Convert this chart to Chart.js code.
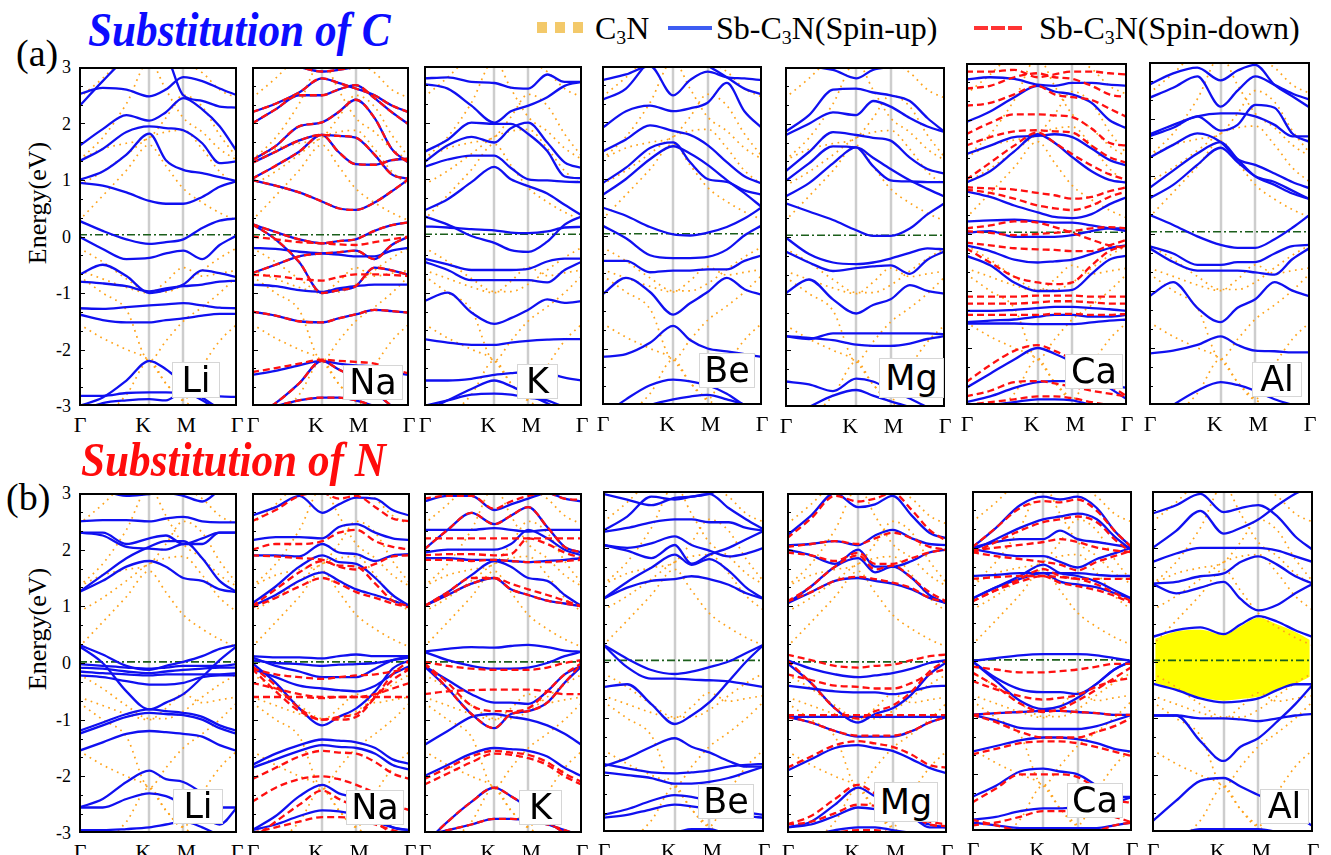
<!DOCTYPE html>
<html>
<head>
<meta charset="utf-8">
<script src="https://cdn.jsdelivr.net/npm/chart.js@4.4.1/dist/chart.umd.min.js"></script>
<style>
  html, body { margin: 0; padding: 0; background: #fff; }
  body { width: 1331px; height: 855px; position: relative; overflow: hidden;
         font-family: "Liberation Serif", "Times New Roman", serif; color: #000; }
  .panel { position: absolute; }
  .panel canvas { display: block; }
  .txt { position: absolute; white-space: nowrap; line-height: 1; }
  .title { font-weight: bold; font-style: italic; font-size: 48px; transform: scaleX(0.9); transform-origin: left top; }
  .klab { position: absolute; font-size: 22px; line-height: 1; transform: translateX(-50%); }
  .ylab { position: absolute; font-size: 18px; line-height: 1; transform: translate(-100%, -50%); }
  .elab { position: absolute; font-size: 26px; line-height: 1; transform: translate(-50%, -50%) rotate(-90deg); white-space: nowrap; }
  .tag { position: absolute; background: #fff; border: 1px solid #d6d6d6; box-sizing: border-box;
         font-family: "DejaVu Sans", sans-serif; font-size: 35px; text-align: center; }
  .legend { position: absolute; top: 12px; font-size: 32px; line-height: 1; white-space: nowrap; }
  .legend sub { font-size: 0.62em; vertical-align: -0.25em; line-height: 0; }
</style>
</head>
<body>
<div id="root"></div>
<script>
// k-path sample points (fraction of the path Γ-K-M-Γ)
const KX = [0, 0.15, 0.3, 0.445, 0.55, 0.66, 0.78, 0.89, 1];
const KPTS = [0, 0.445, 0.66, 1];
const KLABELS = ['Γ', 'K', 'M', 'Γ'];
const KLAB_SHIFT = [1, -6, 3, 0];
const E_TICKS = [3, 2, 1, 0, -1, -2, -3];
const FERMI_A = 0.03;
const FERMI_B = 0.02;

// pristine C3N (orange dotted), same in every panel
const C3N = [
  [0.28, 0.72, 1.17, 1.62, 1.25, 0.85, 0.60, 0.42, 0.28],
  [0.90, 1.15, 1.45, 1.75, 1.85, 1.88, 1.55, 1.15, 0.90],
  [1.35, 1.75, 2.35, 3.10, 2.60, 2.10, 1.85, 1.55, 1.35],
  [1.35, 1.55, 1.65, 1.75, 2.10, 2.50, 2.30, 1.80, 1.40],
  [2.45, 2.80, 3.20, 3.40, 3.30, 3.10, 2.90, 2.60, 2.45],
  [-0.20, -0.45, -0.75, -0.98, -0.98, -0.85, -0.60, -0.38, -0.20],
  [-0.60, -0.75, -0.90, -1.00, -0.80, -0.55, -0.70, -0.65, -0.60],
  [-0.70, -1.00, -1.30, -2.20, -1.85, -1.50, -1.25, -1.00, -0.70],
  [-1.55, -1.80, -2.00, -2.20, -2.60, -2.90, -2.30, -1.85, -1.55],
  [-3.50, -3.20, -2.80, -2.20, -2.60, -2.90, -3.10, -3.30, -3.50]
];

// (a) substitution of C
const LI_C_UP = [
  [2.52, 2.63, 2.60, 2.48, 2.60, 2.82, 2.75, 2.62, 2.50],
  [2.30, 2.75, 3.15, 3.30, 3.20, 2.50, 2.40, 2.30, 2.28],
  [1.60, 1.90, 2.15, 2.05, 2.20, 2.45, 2.25, 1.95, 1.50],
  [1.33, 1.55, 1.85, 1.95, 1.92, 1.88, 1.65, 1.30, 1.33],
  [1.00, 1.15, 1.45, 1.82, 1.35, 1.18, 1.12, 1.05, 0.98],
  [0.95, 0.90, 0.78, 0.63, 0.58, 0.58, 0.70, 0.88, 0.98],
  [0.28, 0.10, -0.05, -0.13, -0.10, -0.05, 0.15, 0.28, 0.32],
  [0.00, -0.22, -0.40, -0.38, -0.30, -0.25, -0.40, -0.15, 0.02],
  [-0.68, -0.50, -0.70, -1.00, -0.95, -0.85, -0.60, -0.65, -0.72],
  [-0.80, -0.83, -0.88, -0.97, -0.92, -0.88, -0.85, -0.80, -0.78],
  [-1.27, -1.28, -1.25, -1.22, -1.20, -1.18, -1.22, -1.26, -1.27],
  [-1.38, -1.48, -1.52, -1.52, -1.48, -1.45, -1.40, -1.37, -1.37],
  [-3.00, -2.85, -2.55, -2.20, -2.35, -2.60, -2.85, -3.05, -3.20],
  [-2.82, -2.82, -2.77, -2.76, -2.76, -2.77, -2.80, -2.83, -2.84],
  [-3.10, -2.95, -2.90, -2.88, -2.90, -2.75, -2.90, -3.10, -3.20]
];
const NA_C_UP = [
  [3.20, 3.10, 3.00, 2.92, 2.95, 3.00, 3.10, 3.20, 3.20],
  [2.20, 2.35, 2.55, 2.80, 2.72, 2.62, 2.50, 2.32, 2.20],
  [2.00, 2.25, 2.50, 2.50, 2.60, 2.68, 2.45, 2.20, 1.98],
  [1.35, 1.60, 1.95, 2.02, 2.20, 2.42, 2.10, 1.55, 1.30],
  [1.30, 1.50, 1.70, 1.80, 1.78, 1.75, 1.45, 1.10, 1.02],
  [1.02, 1.25, 1.50, 1.80, 1.50, 1.28, 1.27, 1.35, 1.38],
  [1.00, 0.90, 0.78, 0.62, 0.50, 0.47, 0.60, 0.80, 1.02],
  [0.22, 0.08, -0.05, -0.12, -0.08, -0.05, 0.10, 0.20, 0.25],
  [0.22, -0.05, -0.45, -1.00, -0.95, -0.88, -0.55, -0.60, -0.68],
  [-0.65, -0.50, -0.35, -0.30, -0.28, -0.25, -0.40, -0.15, 0.00],
  [-0.20, -0.22, -0.27, -0.30, -0.32, -0.35, -0.35, -0.25, -0.20],
  [-0.85, -0.88, -0.95, -0.98, -0.92, -0.88, -0.85, -0.85, -0.85],
  [-1.33, -1.40, -1.50, -1.52, -1.45, -1.38, -1.30, -1.32, -1.35],
  [-2.45, -2.38, -2.28, -2.20, -2.25, -2.28, -2.30, -2.40, -2.45],
  [-3.20, -2.95, -2.60, -2.20, -2.35, -2.50, -2.75, -3.00, -3.20],
  [-3.10, -3.00, -2.90, -2.85, -2.85, -2.90, -3.00, -3.10, -3.20]
];
const NA_C_DN = [
  [3.20, 3.10, 3.00, 2.92, 2.95, 3.00, 3.10, 3.20, 3.20],
  [2.20, 2.35, 2.55, 2.80, 2.72, 2.62, 2.50, 2.32, 2.20],
  [2.00, 2.25, 2.50, 2.50, 2.60, 2.68, 2.45, 2.20, 1.98],
  [1.35, 1.60, 1.95, 2.02, 2.20, 2.42, 2.10, 1.55, 1.30],
  [1.30, 1.50, 1.70, 1.80, 1.78, 1.75, 1.45, 1.10, 1.02],
  [1.02, 1.25, 1.50, 1.80, 1.50, 1.28, 1.27, 1.35, 1.38],
  [1.00, 0.90, 0.78, 0.62, 0.50, 0.47, 0.60, 0.80, 1.02],
  [0.22, 0.08, -0.05, -0.12, -0.08, -0.05, 0.10, 0.20, 0.25],
  [0.22, -0.05, -0.45, -1.00, -0.95, -0.88, -0.55, -0.60, -0.68],
  [-0.65, -0.50, -0.35, -0.30, -0.28, -0.25, -0.40, -0.15, 0.00],
  [0.00, -0.05, -0.10, -0.12, -0.14, -0.15, -0.10, -0.05, 0.00],
  [-0.68, -0.70, -0.75, -0.78, -0.72, -0.67, -0.67, -0.68, -0.70],
  [-1.33, -1.40, -1.50, -1.52, -1.45, -1.38, -1.30, -1.32, -1.35],
  [-2.40, -2.33, -2.25, -2.18, -2.20, -2.22, -2.25, -2.35, -2.42],
  [-3.20, -2.95, -2.60, -2.20, -2.35, -2.50, -2.75, -3.00, -3.20],
  [-3.10, -3.00, -2.90, -2.85, -2.85, -2.90, -3.00, -3.10, -3.20]
];
const K_C_UP = [
  [2.78, 2.80, 2.72, 2.70, 2.62, 2.60, 2.85, 2.72, 2.72],
  [2.68, 2.60, 2.30, 2.00, 2.20, 2.30, 2.45, 2.65, 2.72],
  [1.48, 1.70, 2.00, 1.98, 1.98, 1.80, 1.50, 1.05, 1.02],
  [1.30, 1.60, 1.75, 1.65, 1.90, 2.00, 1.65, 1.30, 1.20],
  [1.22, 1.35, 1.42, 1.42, 1.20, 1.00, 0.98, 0.96, 0.95],
  [0.45, 0.65, 0.95, 1.22, 1.00, 0.88, 0.75, 0.55, 0.36],
  [0.35, 0.20, 0.00, -0.12, -0.25, -0.28, -0.10, 0.20, 0.35],
  [0.17, 0.15, 0.12, 0.10, 0.06, 0.05, 0.08, 0.15, 0.16],
  [-0.40, -0.50, -0.60, -0.60, -0.60, -0.58, -0.45, -0.40, -0.40],
  [-0.45, -0.60, -0.78, -0.78, -0.78, -0.78, -0.82, -0.60, -0.45],
  [-1.15, -1.00, -1.35, -1.55, -1.45, -1.30, -1.12, -1.18, -1.15],
  [-1.82, -1.88, -1.92, -1.92, -1.88, -1.85, -1.83, -1.82, -1.82],
  [-2.55, -2.55, -2.52, -2.45, -2.42, -2.40, -2.42, -2.50, -2.55],
  [-3.10, -2.90, -2.70, -2.55, -2.65, -2.80, -2.95, -3.10, -3.20],
  [-3.00, -2.90, -2.80, -2.78, -2.80, -2.85, -2.90, -3.00, -3.00]
];
const BE_C_UP = [
  [2.75, 2.85, 3.00, 2.48, 2.75, 2.90, 2.80, 2.78, 2.75],
  [2.40, 2.60, 3.10, 3.30, 3.10, 3.00, 2.80, 2.60, 2.50],
  [1.90, 2.20, 2.30, 2.20, 2.25, 2.35, 2.70, 2.20, 1.90],
  [1.48, 1.70, 1.95, 1.85, 1.78, 1.60, 1.30, 1.05, 0.92],
  [0.92, 1.20, 1.55, 1.65, 1.30, 1.00, 0.95, 0.80, 0.72],
  [0.71, 1.00, 1.35, 1.58, 1.45, 1.25, 0.98, 0.75, 0.50],
  [0.50, 0.35, 0.15, 0.02, 0.00, 0.05, 0.15, 0.30, 0.50],
  [0.18, -0.05, -0.35, -0.40, -0.40, -0.38, -0.25, 0.00, 0.18],
  [-0.45, -0.45, -0.65, -0.62, -0.62, -0.60, -0.60, -0.45, -0.35],
  [-1.05, -0.75, -1.00, -1.40, -1.20, -1.00, -0.75, -0.95, -1.05],
  [-2.15, -2.10, -1.90, -1.60, -1.85, -2.00, -2.05, -2.10, -2.15],
  [-3.20, -2.90, -2.65, -2.55, -2.58, -2.65, -2.80, -3.00, -3.10],
  [-3.30, -3.15, -3.00, -2.90, -2.85, -2.82, -2.90, -3.00, -3.20]
];
const MG_C_UP = [
  [3.00, 3.00, 2.95, 2.80, 2.95, 3.00, 3.05, 3.10, 3.10],
  [1.85, 2.15, 2.60, 2.62, 2.55, 2.50, 2.40, 2.10, 1.85],
  [1.79, 2.00, 2.20, 2.15, 2.40, 2.30, 2.10, 1.95, 1.85],
  [1.15, 1.50, 1.85, 1.80, 1.75, 1.70, 1.40, 1.20, 1.12],
  [0.98, 1.30, 1.60, 1.58, 1.25, 1.00, 0.98, 0.97, 0.97],
  [0.71, 0.95, 1.30, 1.58, 1.40, 1.20, 1.00, 0.85, 0.71],
  [0.60, 0.45, 0.30, 0.12, 0.02, 0.02, 0.15, 0.40, 0.60],
  [0.00, -0.30, -0.45, -0.48, -0.45, -0.38, -0.28, -0.20, -0.22],
  [-0.25, -0.45, -0.60, -0.55, -0.52, -0.50, -0.65, -0.40, -0.25],
  [-1.00, -0.75, -1.10, -1.35, -1.20, -1.10, -0.85, -0.95, -1.00],
  [-1.75, -1.80, -1.70, -1.70, -1.70, -1.70, -1.70, -1.70, -1.72],
  [-1.75, -1.78, -1.82, -1.90, -1.92, -1.92, -1.88, -1.80, -1.75],
  [-2.55, -2.60, -2.72, -2.50, -2.55, -2.70, -2.85, -3.00, -3.10],
  [-3.20, -3.00, -2.80, -2.70, -2.80, -2.90, -3.00, -3.10, -3.20]
];
const CA_C_UP = [
  [2.71, 2.75, 2.72, 2.62, 2.60, 2.65, 2.65, 2.62, 2.60],
  [1.96, 2.15, 2.40, 2.60, 2.50, 2.45, 2.30, 2.00, 1.85],
  [1.40, 1.55, 1.70, 1.72, 1.75, 1.70, 1.50, 1.30, 1.20],
  [0.90, 1.10, 1.45, 1.75, 1.60, 1.35, 1.10, 0.95, 0.90],
  [0.75, 0.65, 0.50, 0.38, 0.30, 0.28, 0.35, 0.52, 0.65],
  [0.22, 0.24, 0.25, 0.22, 0.20, 0.20, 0.15, 0.10, 0.05],
  [0.02, 0.05, -0.05, -0.05, -0.05, -0.02, 0.05, 0.10, 0.10],
  [-0.20, -0.30, -0.45, -0.50, -0.48, -0.45, -0.35, -0.25, -0.20],
  [-0.38, -0.55, -0.85, -1.00, -1.00, -0.98, -0.70, -0.45, -0.38],
  [-1.35, -1.35, -1.33, -1.30, -1.28, -1.28, -1.30, -1.32, -1.35],
  [-1.55, -1.52, -1.50, -1.45, -1.42, -1.42, -1.45, -1.45, -1.42],
  [-1.57, -1.57, -1.57, -1.58, -1.58, -1.58, -1.55, -1.52, -1.50],
  [-2.70, -2.45, -2.20, -2.00, -2.10, -2.25, -2.50, -2.70, -2.90],
  [-2.95, -2.85, -2.70, -2.60, -2.58, -2.58, -2.60, -2.65, -2.70],
  [-3.05, -3.00, -2.95, -2.90, -2.90, -2.92, -3.00, -3.05, -3.10]
];
const CA_C_DN = [
  [2.85, 2.85, 2.88, 2.75, 2.80, 2.85, 2.85, 2.82, 2.80],
  [2.55, 2.60, 2.75, 2.82, 2.75, 2.72, 2.60, 2.45, 2.40],
  [2.25, 2.30, 2.45, 2.60, 2.45, 2.40, 2.35, 2.20, 2.05],
  [1.75, 1.95, 2.10, 2.10, 2.08, 2.05, 1.85, 1.60, 1.55],
  [1.55, 1.70, 1.80, 1.82, 1.80, 1.78, 1.55, 1.35, 1.25],
  [0.95, 1.25, 1.55, 1.78, 1.60, 1.40, 1.20, 1.05, 0.95],
  [0.82, 0.80, 0.78, 0.72, 0.68, 0.62, 0.65, 0.75, 0.82],
  [0.78, 0.72, 0.62, 0.50, 0.45, 0.42, 0.50, 0.65, 0.75],
  [0.10, 0.15, 0.22, 0.20, 0.12, 0.02, -0.10, -0.20, -0.25],
  [0.05, 0.02, -0.02, 0.00, 0.02, 0.05, 0.10, 0.12, 0.10],
  [-0.15, -0.20, -0.25, -0.27, -0.28, -0.30, -0.30, -0.20, -0.10],
  [-0.25, -0.50, -0.75, -0.85, -0.88, -0.85, -0.55, -0.30, -0.20],
  [-1.10, -1.10, -1.10, -1.08, -1.08, -1.08, -1.10, -1.10, -1.10],
  [-1.22, -1.22, -1.22, -1.20, -1.18, -1.18, -1.20, -1.22, -1.22],
  [-1.42, -1.42, -1.42, -1.42, -1.40, -1.40, -1.42, -1.42, -1.40],
  [-2.60, -2.30, -2.05, -1.95, -2.05, -2.20, -2.45, -2.65, -2.85],
  [-2.85, -2.75, -2.60, -2.58, -2.62, -2.68, -2.75, -2.80, -2.85],
  [-3.00, -2.95, -2.90, -2.85, -2.85, -2.88, -2.95, -3.00, -3.05]
];
const AL_C_UP = [
  [2.37, 2.55, 2.75, 2.22, 2.50, 2.75, 2.60, 2.45, 2.34],
  [2.60, 2.80, 2.90, 2.68, 2.85, 2.95, 2.60, 2.40, 2.20],
  [1.73, 1.90, 2.05, 2.10, 2.10, 2.05, 1.90, 1.70, 1.70],
  [1.70, 1.85, 2.05, 1.80, 1.90, 2.25, 2.20, 1.75, 1.60],
  [1.32, 1.55, 1.75, 1.60, 1.30, 1.20, 1.05, 0.90, 0.79],
  [0.79, 1.10, 1.40, 1.60, 1.30, 1.00, 0.85, 0.70, 0.60],
  [0.61, 0.85, 1.20, 1.50, 1.25, 1.00, 0.90, 0.75, 0.60],
  [0.33, 0.15, -0.05, -0.20, -0.25, -0.25, -0.10, 0.10, 0.33],
  [-0.22, -0.35, -0.55, -0.55, -0.50, -0.50, -0.35, -0.22, -0.20],
  [-0.25, -0.50, -0.65, -0.65, -0.65, -0.68, -0.72, -0.45, -0.25],
  [-1.10, -0.85, -1.30, -1.55, -1.30, -1.15, -0.85, -1.00, -1.10],
  [-2.10, -2.05, -1.95, -1.80, -1.95, -2.05, -2.06, -2.08, -2.08],
  [-3.30, -3.00, -2.75, -2.60, -2.65, -2.75, -2.90, -3.00, -3.10]
];

// (b) substitution of N
const LI_N_UP = [
  [3.20, 3.05, 2.95, 2.98, 3.00, 2.95, 2.85, 3.05, 3.20],
  [2.50, 2.52, 2.52, 2.50, 2.55, 2.58, 2.50, 2.48, 2.48],
  [2.30, 2.30, 2.10, 2.20, 2.25, 2.10, 2.20, 2.30, 2.30],
  [2.30, 2.25, 2.05, 2.02, 2.00, 2.10, 2.10, 2.30, 2.30],
  [1.25, 1.45, 1.70, 1.80, 1.70, 1.50, 1.45, 1.30, 1.25],
  [1.25, 1.55, 1.85, 2.05, 2.15, 2.15, 1.85, 1.45, 1.25],
  [0.32, 0.15, -0.05, -0.12, -0.05, 0.02, 0.12, 0.25, 0.32],
  [-0.02, -0.05, -0.08, -0.10, -0.08, -0.05, -0.05, -0.05, -0.02],
  [-0.08, -0.10, -0.15, -0.18, -0.15, -0.12, -0.10, -0.08, -0.08],
  [-0.15, -0.18, -0.20, -0.22, -0.20, -0.20, -0.20, -0.20, -0.18],
  [-0.22, -0.25, -0.32, -0.38, -0.38, -0.35, -0.25, -0.22, -0.22],
  [0.30, 0.00, -0.50, -0.82, -0.70, -0.55, -0.25, 0.05, 0.30],
  [-1.20, -1.05, -0.90, -0.82, -0.85, -0.88, -0.95, -1.10, -1.20],
  [-1.25, -1.10, -0.95, -0.88, -0.90, -0.92, -1.00, -1.15, -1.25],
  [-1.55, -1.40, -1.25, -1.20, -1.22, -1.25, -1.30, -1.45, -1.55],
  [-2.55, -2.40, -2.10, -1.90, -2.05, -2.10, -2.30, -2.55, -2.55],
  [-2.55, -2.55, -2.40, -2.30, -2.35, -2.50, -2.70, -2.85, -2.55],
  [-2.95, -2.95, -2.93, -2.90, -2.85, -2.80, -2.90, -3.05, -3.20]
];
const NA_N_UP = [
  [2.60, 2.75, 2.95, 2.65, 2.80, 2.92, 2.90, 2.70, 2.60],
  [2.17, 2.22, 2.22, 2.20, 2.40, 2.45, 2.30, 2.20, 2.17],
  [1.90, 1.90, 1.88, 2.10, 1.95, 1.92, 1.80, 1.90, 1.92],
  [1.05, 1.35, 1.70, 1.90, 1.78, 1.75, 1.50, 1.20, 1.00],
  [1.00, 1.20, 1.45, 1.60, 1.45, 1.30, 1.20, 1.10, 1.00],
  [0.12, 0.10, 0.10, 0.08, 0.12, 0.15, 0.12, 0.12, 0.12],
  [0.10, -0.05, -0.15, -0.25, -0.25, -0.25, -0.10, 0.05, 0.12],
  [0.05, 0.00, -0.02, -0.05, -0.03, -0.02, 0.00, 0.05, 0.10],
  [-0.10, -0.25, -0.40, -0.45, -0.48, -0.50, -0.40, -0.20, -0.05],
  [0.00, -0.35, -0.80, -1.10, -0.95, -0.80, -0.50, -0.10, 0.05],
  [-1.80, -1.60, -1.45, -1.35, -1.37, -1.40, -1.50, -1.70, -1.78],
  [-1.85, -1.70, -1.55, -1.45, -1.48, -1.50, -1.60, -1.80, -1.88],
  [-2.95, -2.70, -2.35, -2.15, -2.30, -2.40, -2.70, -2.90, -2.95],
  [-2.95, -2.85, -2.70, -2.60, -2.62, -2.68, -2.80, -2.90, -2.95]
];
const NA_N_DN = [
  [2.50, 2.70, 2.95, 3.00, 2.90, 2.95, 2.75, 2.55, 2.50],
  [2.00, 2.10, 2.10, 2.15, 2.30, 2.35, 2.15, 2.05, 2.00],
  [1.90, 1.88, 1.85, 1.82, 1.70, 1.65, 1.75, 1.88, 1.90],
  [1.00, 1.30, 1.60, 1.80, 1.72, 1.70, 1.40, 1.10, 1.00],
  [0.98, 1.15, 1.35, 1.50, 1.40, 1.25, 1.15, 1.05, 0.98],
  [-0.10, -0.20, -0.25, -0.28, -0.25, -0.22, -0.20, -0.15, -0.10],
  [-0.35, -0.45, -0.55, -0.60, -0.60, -0.60, -0.55, -0.45, -0.35],
  [-0.60, -0.60, -0.60, -0.62, -0.60, -0.60, -0.60, -0.60, -0.60],
  [-0.05, -0.40, -0.80, -1.00, -1.00, -0.95, -0.60, -0.20, 0.05],
  [-0.10, -0.50, -0.85, -1.00, -0.95, -0.90, -0.60, -0.30, -0.10],
  [-2.05, -1.85, -1.65, -1.55, -1.58, -1.60, -1.75, -1.95, -2.05],
  [-2.45, -2.20, -2.05, -2.00, -2.05, -2.15, -2.30, -2.50, -2.60],
  [-3.10, -2.80, -2.50, -2.25, -2.40, -2.55, -2.80, -3.00, -3.10],
  [-3.00, -2.90, -2.80, -2.72, -2.72, -2.75, -2.85, -2.95, -3.05]
];
const K_N_UP = [
  [2.85, 2.95, 2.95, 2.70, 2.80, 2.90, 3.00, 2.90, 2.85],
  [2.00, 2.35, 2.65, 2.45, 2.60, 2.75, 2.40, 2.05, 1.95],
  [2.35, 2.35, 2.35, 2.38, 2.35, 2.32, 2.35, 2.35, 2.35],
  [1.95, 2.00, 2.00, 2.00, 2.10, 2.35, 2.20, 2.00, 1.90],
  [1.85, 1.85, 1.82, 1.82, 1.80, 1.78, 1.80, 1.82, 1.85],
  [1.00, 1.25, 1.55, 1.80, 1.70, 1.50, 1.45, 1.20, 1.00],
  [1.00, 1.20, 1.40, 1.50, 1.30, 1.20, 1.10, 1.05, 1.00],
  [0.20, 0.25, 0.28, 0.27, 0.30, 0.32, 0.28, 0.22, 0.20],
  [0.20, 0.05, -0.05, -0.10, -0.10, -0.08, 0.00, 0.12, 0.20],
  [-0.05, -0.30, -0.55, -0.70, -0.70, -0.72, -0.50, -0.20, -0.05],
  [-0.05, -0.45, -0.90, -1.15, -0.90, -0.85, -0.70, -0.35, -0.05],
  [-1.45, -1.20, -0.95, -0.90, -0.95, -1.00, -1.10, -1.25, -1.45],
  [-2.00, -1.80, -1.60, -1.50, -1.52, -1.55, -1.65, -1.85, -2.00],
  [-3.20, -2.80, -2.45, -2.20, -2.35, -2.55, -2.80, -3.00, -3.20],
  [-3.05, -2.95, -2.85, -2.75, -2.75, -2.78, -2.85, -2.95, -3.05]
];
const K_N_DN = [
  [2.90, 2.95, 2.95, 2.72, 2.85, 2.95, 3.00, 2.90, 2.88],
  [2.00, 2.35, 2.65, 2.45, 2.60, 2.75, 2.40, 2.05, 1.95],
  [2.20, 2.20, 2.20, 2.20, 2.20, 2.20, 2.20, 2.20, 2.20],
  [1.90, 1.92, 1.92, 1.90, 1.92, 2.20, 2.10, 1.95, 1.85],
  [1.82, 1.82, 1.80, 1.82, 1.80, 1.78, 1.78, 1.80, 1.82],
  [1.00, 1.25, 1.50, 1.50, 1.40, 1.30, 1.20, 1.10, 1.00],
  [1.00, 1.20, 1.40, 1.50, 1.30, 1.20, 1.10, 1.05, 1.00],
  [0.02, -0.05, -0.10, -0.12, -0.12, -0.12, -0.08, 0.00, 0.05],
  [-0.55, -0.50, -0.48, -0.47, -0.47, -0.47, -0.50, -0.55, -0.55],
  [0.00, -0.35, -0.75, -0.85, -0.85, -0.80, -0.50, -0.20, 0.00],
  [0.00, -0.45, -0.90, -1.15, -0.90, -0.85, -0.70, -0.35, 0.00],
  [-2.05, -1.85, -1.65, -1.55, -1.58, -1.62, -1.75, -1.95, -2.10],
  [-2.15, -1.95, -1.75, -1.60, -1.62, -1.68, -1.80, -2.00, -2.15],
  [-3.20, -2.80, -2.45, -2.20, -2.35, -2.55, -2.80, -3.00, -3.20],
  [-3.05, -2.95, -2.85, -2.75, -2.75, -2.78, -2.85, -2.95, -3.05]
];
const BE_N_UP = [
  [2.95, 2.85, 2.75, 2.88, 2.90, 2.95, 2.70, 2.50, 2.32],
  [2.30, 2.55, 2.90, 2.85, 2.90, 2.95, 3.10, 3.20, 3.20],
  [2.28, 2.35, 2.45, 2.50, 2.50, 2.45, 2.45, 2.35, 2.30],
  [2.05, 1.95, 1.82, 2.05, 1.72, 1.88, 2.00, 2.15, 2.30],
  [2.05, 2.00, 2.08, 2.20, 2.05, 1.95, 1.85, 1.90, 2.00],
  [1.10, 1.40, 1.65, 1.88, 1.70, 1.80, 1.60, 1.30, 1.10],
  [1.10, 1.30, 1.42, 1.45, 1.50, 1.45, 1.35, 1.20, 1.10],
  [0.30, 0.05, -0.15, -0.22, -0.18, -0.10, 0.00, 0.15, 0.30],
  [0.30, -0.10, -0.30, -0.30, -0.32, -0.33, -0.35, -0.40, -0.45],
  [-0.45, -0.40, -0.75, -1.10, -0.95, -0.72, -0.35, 0.00, 0.30],
  [-1.85, -1.70, -1.50, -1.35, -1.50, -1.60, -1.75, -1.85, -1.85],
  [-1.80, -1.88, -1.95, -1.97, -1.95, -1.92, -1.85, -1.82, -1.80],
  [-1.95, -2.00, -2.05, -2.15, -2.15, -2.12, -2.05, -1.95, -1.85],
  [-2.70, -2.60, -2.45, -2.35, -2.38, -2.45, -2.55, -2.65, -2.70],
  [-2.75, -2.70, -2.60, -2.52, -2.55, -2.60, -2.68, -2.72, -2.75],
  [-3.10, -3.05, -3.00, -3.00, -2.95, -2.95, -3.05, -3.10, -3.15]
];
const MG_N_UP = [
  [2.25, 2.60, 3.00, 2.75, 2.80, 2.95, 2.60, 2.30, 2.20],
  [2.08, 2.10, 2.15, 2.08, 2.25, 2.35, 2.20, 2.10, 2.08],
  [2.00, 1.90, 1.75, 2.00, 1.70, 1.70, 1.80, 1.95, 2.00],
  [1.05, 1.35, 1.70, 1.85, 1.60, 1.70, 1.50, 1.20, 1.05],
  [1.05, 1.25, 1.45, 1.50, 1.45, 1.40, 1.30, 1.15, 1.05],
  [0.05, -0.10, -0.20, -0.25, -0.22, -0.18, -0.10, 0.00, 0.05],
  [-0.40, -0.45, -0.50, -0.52, -0.52, -0.55, -0.50, -0.42, -0.40],
  [0.00, -0.35, -0.80, -1.05, -0.90, -0.80, -0.55, -0.20, 0.02],
  [-0.95, -0.95, -0.95, -0.95, -0.95, -0.95, -0.95, -0.95, -0.95],
  [-0.95, -1.05, -1.20, -1.30, -1.30, -1.30, -1.20, -1.05, -0.95],
  [-1.90, -1.70, -1.50, -1.45, -1.50, -1.55, -1.70, -1.85, -1.95],
  [-2.90, -2.80, -2.50, -2.20, -2.35, -2.45, -2.70, -2.90, -2.90],
  [-2.90, -2.85, -2.70, -2.55, -2.58, -2.65, -2.75, -2.85, -2.90],
  [-3.10, -3.05, -2.95, -2.90, -2.90, -2.95, -3.00, -3.05, -3.10]
];
const MG_N_DN = [
  [2.20, 2.55, 2.95, 2.85, 2.90, 3.00, 2.70, 2.35, 2.15],
  [2.05, 2.10, 2.15, 2.10, 2.20, 2.30, 2.20, 2.05, 2.00],
  [1.95, 1.90, 1.80, 1.95, 1.75, 1.75, 1.85, 1.95, 2.00],
  [1.08, 1.35, 1.70, 1.90, 1.65, 1.72, 1.50, 1.25, 1.08],
  [1.08, 1.25, 1.45, 1.52, 1.48, 1.42, 1.32, 1.15, 1.08],
  [0.15, 0.05, -0.05, -0.08, -0.05, -0.03, 0.05, 0.12, 0.15],
  [-0.20, -0.30, -0.40, -0.42, -0.45, -0.45, -0.35, -0.20, -0.10],
  [0.05, -0.35, -0.80, -0.98, -0.85, -0.75, -0.50, -0.15, 0.05],
  [-0.92, -0.92, -0.92, -0.92, -0.92, -0.92, -0.92, -0.92, -0.92],
  [-0.95, -1.05, -1.20, -1.28, -1.28, -1.28, -1.20, -1.05, -0.95],
  [-1.85, -1.65, -1.45, -1.38, -1.42, -1.48, -1.62, -1.80, -1.85],
  [-2.85, -2.70, -2.40, -2.15, -2.30, -2.45, -2.65, -2.85, -2.88],
  [-2.85, -2.80, -2.65, -2.50, -2.52, -2.60, -2.70, -2.80, -2.85],
  [-3.15, -3.10, -3.00, -2.95, -2.95, -3.00, -3.05, -3.10, -3.15]
];
const CA_N_UP = [
  [2.00, 2.35, 2.75, 2.90, 2.85, 2.90, 2.70, 2.30, 2.00],
  [1.95, 2.15, 2.35, 2.50, 2.55, 2.60, 2.50, 2.20, 1.95],
  [2.00, 2.10, 2.15, 2.15, 2.30, 2.15, 2.10, 2.05, 2.00],
  [1.98, 1.90, 1.85, 1.85, 1.75, 1.65, 1.80, 1.90, 2.00],
  [1.50, 1.52, 1.55, 1.55, 1.55, 1.55, 1.52, 1.50, 1.50],
  [1.10, 1.30, 1.50, 1.70, 1.55, 1.50, 1.40, 1.25, 1.10],
  [1.10, 1.30, 1.45, 1.55, 1.40, 1.35, 1.30, 1.20, 1.10],
  [0.00, 0.05, 0.10, 0.12, 0.12, 0.12, 0.10, 0.05, 0.00],
  [0.00, -0.30, -0.50, -0.55, -0.55, -0.58, -0.40, -0.15, 0.00],
  [0.00, -0.35, -0.70, -0.85, -0.80, -0.65, -0.40, -0.15, 0.00],
  [-0.95, -0.92, -0.90, -0.88, -0.88, -0.90, -0.92, -0.95, -0.95],
  [-0.95, -1.05, -1.18, -1.20, -1.20, -1.20, -1.15, -1.05, -0.95],
  [-1.60, -1.50, -1.40, -1.35, -1.35, -1.38, -1.45, -1.55, -1.60],
  [-2.40, -2.20, -1.95, -1.90, -1.95, -2.00, -2.20, -2.40, -2.40],
  [-2.80, -2.75, -2.65, -2.60, -2.60, -2.58, -2.55, -2.50, -2.40],
  [-2.85, -2.90, -2.95, -2.95, -2.95, -2.95, -2.95, -2.90, -2.85]
];
const CA_N_DN = [
  [2.00, 2.35, 2.70, 2.82, 2.80, 2.85, 2.65, 2.30, 2.00],
  [1.90, 2.10, 2.30, 2.45, 2.50, 2.55, 2.45, 2.15, 1.90],
  [1.95, 2.00, 2.05, 2.10, 2.15, 2.10, 2.00, 1.95, 1.92],
  [1.92, 1.85, 1.80, 1.75, 1.70, 1.60, 1.75, 1.85, 1.95],
  [1.45, 1.48, 1.50, 1.50, 1.48, 1.45, 1.45, 1.45, 1.45],
  [1.05, 1.25, 1.45, 1.62, 1.50, 1.45, 1.35, 1.20, 1.05],
  [1.05, 1.25, 1.40, 1.50, 1.38, 1.32, 1.25, 1.15, 1.02],
  [-0.10, -0.15, -0.20, -0.20, -0.18, -0.15, -0.10, -0.05, -0.05],
  [-0.35, -0.50, -0.62, -0.68, -0.65, -0.60, -0.45, -0.35, -0.30],
  [-0.20, -0.45, -0.75, -0.90, -0.85, -0.70, -0.50, -0.30, -0.10],
  [-0.95, -0.92, -0.90, -0.88, -0.88, -0.90, -0.92, -0.95, -0.95],
  [-0.95, -1.08, -1.25, -1.35, -1.35, -1.35, -1.25, -1.15, -1.00],
  [-1.65, -1.55, -1.45, -1.42, -1.42, -1.45, -1.52, -1.60, -1.68],
  [-2.50, -2.25, -2.00, -2.00, -2.00, -2.05, -2.25, -2.45, -2.50],
  [-2.90, -2.85, -2.75, -2.65, -2.65, -2.65, -2.70, -2.75, -2.85],
  [-2.80, -2.90, -3.00, -3.05, -3.05, -3.05, -3.00, -2.90, -2.85]
];
const AL_N_UP = [
  [2.60, 2.75, 2.95, 2.63, 2.70, 2.75, 2.55, 2.20, 1.96],
  [1.99, 2.30, 2.65, 2.25, 2.35, 2.50, 2.75, 2.95, 3.10],
  [1.75, 1.90, 2.00, 2.00, 2.00, 2.00, 1.95, 1.85, 1.75],
  [1.37, 1.40, 1.50, 1.55, 1.75, 1.85, 1.70, 1.50, 1.37],
  [1.37, 1.20, 1.30, 1.40, 1.10, 0.90, 1.00, 1.20, 1.37],
  [0.43, 0.55, 0.60, 0.48, 0.65, 0.80, 0.70, 0.55, 0.43],
  [-0.39, -0.50, -0.65, -0.72, -0.70, -0.65, -0.50, -0.40, -0.40],
  [-0.95, -0.95, -1.00, -1.00, -1.02, -1.05, -1.00, -0.95, -0.92],
  [-0.95, -0.95, -1.40, -1.75, -1.50, -1.35, -1.05, -0.75, -0.40],
  [-2.82, -2.45, -2.10, -2.05, -2.20, -2.35, -2.50, -2.70, -2.90],
  [-3.10, -3.05, -2.95, -2.95, -2.95, -2.95, -3.00, -3.05, -3.10]
];
// yellow gap region in Al (N)
const AL_N_GAP_X = [0.02, 0.15, 0.3, 0.445, 0.55, 0.66, 0.78, 0.89, 0.98];
const AL_N_GAP_TOP = [0.40, 0.53, 0.56, 0.47, 0.62, 0.77, 0.65, 0.52, 0.38];
const AL_N_GAP_BOT = [-0.38, -0.50, -0.63, -0.69, -0.66, -0.62, -0.50, -0.40, -0.27];

// layout: frame rect [left, top, right, bottom] and tag box [left, top, w, h]
const PANELS = [
  { row: 'a', el: 'Li', rect: [79, 67, 237, 406],   tag: [172, 362, 48, 36], up: LI_C_UP, dn: [] },
  { row: 'a', el: 'Na', rect: [252, 67, 409, 406],  tag: [343, 365, 60, 35], up: NA_C_UP, dn: NA_C_DN },
  { row: 'a', el: 'K',  rect: [424, 66, 582, 406],  tag: [517, 364, 41, 35], up: K_C_UP,  dn: [] },
  { row: 'a', el: 'Be', rect: [602, 66, 762, 405],  tag: [699, 353, 56, 35], up: BE_C_UP, dn: [] },
  { row: 'a', el: 'Mg', rect: [785, 67, 945, 407],  tag: [879, 358, 65, 40], up: MG_C_UP, dn: [] },
  { row: 'a', el: 'Ca', rect: [966, 63, 1127, 405], tag: [1065, 354, 58, 35], up: CA_C_UP, dn: CA_C_DN },
  { row: 'a', el: 'Al', rect: [1149, 62, 1310, 405], tag: [1252, 362, 50, 35], up: AL_C_UP, dn: [] },
  { row: 'b', el: 'Li', rect: [79, 493, 237, 833],  tag: [173, 789, 50, 35], up: LI_N_UP, dn: [] },
  { row: 'b', el: 'Na', rect: [252, 493, 410, 833], tag: [346, 790, 58, 35], up: NA_N_UP, dn: NA_N_DN },
  { row: 'b', el: 'K',  rect: [424, 493, 582, 833], tag: [519, 790, 43, 35], up: K_N_UP,  dn: K_N_DN },
  { row: 'b', el: 'Be', rect: [603, 491, 764, 832], tag: [698, 784, 56, 35], up: BE_N_UP, dn: [] },
  { row: 'b', el: 'Mg', rect: [787, 493, 947, 833], tag: [874, 782, 64, 40], up: MG_N_UP, dn: MG_N_DN },
  { row: 'b', el: 'Ca', rect: [972, 491, 1132, 831], tag: [1067, 783, 56, 35], up: CA_N_UP, dn: CA_N_DN },
  { row: 'b', el: 'Al', rect: [1152, 491, 1313, 832], tag: [1260, 789, 49, 35], up: AL_N_UP, dn: [], gap: true }
];

const root = document.getElementById('root');

function addText(cls, text, left, top, style) {
  const d = document.createElement('div');
  d.className = cls;
  d.innerHTML = text;
  d.style.left = left + 'px';
  d.style.top = top + 'px';
  if (style) Object.assign(d.style, style);
  root.appendChild(d);
  return d;
}

// gray K / M lines, inner ticks and frame
const framePlugin = {
  id: 'frame',
  beforeDatasetsDraw(chart) {
    const { ctx, chartArea: a, scales: { x } } = chart;
    ctx.save();
    ctx.strokeStyle = '#cdcdcd';
    ctx.lineWidth = 2.5;
    KPTS.slice(1, 3).forEach(k => {
      const px = Math.round(x.getPixelForValue(k));
      ctx.beginPath(); ctx.moveTo(px, a.top); ctx.lineTo(px, a.bottom); ctx.stroke();
    });
    ctx.restore();
  },
  afterDraw(chart) {
    const { ctx, chartArea: a, scales: { y } } = chart;
    ctx.save();
    ctx.strokeStyle = '#000';
    ctx.lineWidth = 1;
    for (let i = 0; i <= 18; i++) {
      const py = Math.round(y.getPixelForValue(-3 + i / 3)) + 0.5;
      const len = i % 3 === 0 ? 6 : 4;
      ctx.beginPath(); ctx.moveTo(a.left, py); ctx.lineTo(a.left + len, py); ctx.stroke();
    }
    ctx.lineWidth = 2;
    ctx.strokeRect(a.left + 1, a.top + 1, a.width - 2, a.height - 2);
    ctx.restore();
  }
};

function band(ys, xs, color, width, dash) {
  return {
    data: ys.map((y, i) => ({ x: xs[i], y })),
    borderColor: color,
    borderWidth: width,
    borderDash: dash,
    borderCapStyle: 'butt',
    pointRadius: 0,
    fill: false,
    cubicInterpolationMode: 'monotone'
  };
}

PANELS.forEach(p => {
  const [l, t, r, b] = p.rect;
  const w = r - l, h = b - t;
  const wrap = document.createElement('div');
  wrap.className = 'panel';
  wrap.style.left = l + 'px';
  wrap.style.top = t + 'px';
  const cv = document.createElement('canvas');
  cv.width = w; cv.height = h;
  cv.style.width = w + 'px'; cv.style.height = h + 'px';
  wrap.appendChild(cv);
  root.appendChild(wrap);

  const fermi = p.row === 'a' ? FERMI_A : FERMI_B;
  const datasets = [];
  p.dn.forEach(ys => datasets.push(band(ys, KX, '#ff1010', 2.3, [7, 4])));
  p.up.forEach(ys => datasets.push(band(ys, KX, '#1010f0', 2.3, [])));
  datasets.push({
    data: [{ x: 0, y: fermi }, { x: 1, y: fermi }],
    borderColor: '#1b5e1b', borderWidth: 1.6, borderDash: [8, 3, 2, 3], pointRadius: 0, fill: false
  });
  C3N.forEach(ys => datasets.push(band(ys, KX, '#ffa31a', 1.7, [1.7, 4.5])));
  if (p.gap) {
    const top = band(AL_N_GAP_TOP, AL_N_GAP_X, '#ffff00', 0, []);
    top.fill = '+1';
    top.backgroundColor = '#ffff00';
    datasets.push(top);
    datasets.push(band(AL_N_GAP_BOT, AL_N_GAP_X, '#ffff00', 0, []));
  }

  const chart = new Chart(cv, {
    type: 'line',
    data: { datasets },
    options: {
      responsive: false,
      animation: false,
      events: [],
      layout: { padding: 0 },
      plugins: { legend: { display: false }, tooltip: { enabled: false } },
      scales: {
        x: { type: 'linear', min: 0, max: 1, display: false },
        y: { type: 'linear', min: -3, max: 3, display: false }
      }
    },
    plugins: [framePlugin]
  });

  // k-point labels under the panel
  KPTS.forEach((k, i) => {
    addText('klab', KLABELS[i], l + chart.scales.x.getPixelForValue(k) + KLAB_SHIFT[i], b + 8);
  });
  // energy ticks on the first panel of each row
  if (p.el === 'Li') {
    E_TICKS.forEach(v => {
      addText('ylab', String(v), l - 8, t + chart.scales.y.getPixelForValue(v));
    });
    addText('elab', 'Energy(eV)', 38, t + chart.scales.y.getPixelForValue(0.6));
  }
  const tg = addText('tag', p.el, p.tag[0], p.tag[1]);
  tg.style.width = p.tag[2] + 'px';
  tg.style.height = p.tag[3] + 'px';
  tg.style.lineHeight = (p.tag[3] - 2) + 'px';
});

// headings, row letters and legend
addText('txt title', 'Substitution of C', 88, 6, { color: '#0c0cff' });
addText('txt title', 'Substitution of N', 81, 436, { color: '#ff0c0c' });
addText('txt', '(a)', 16, 34, { fontSize: '38px' });
addText('txt', '(b)', 6, 478, { fontSize: '38px' });

const lg = document.createElement('div');
lg.className = 'legend';
lg.style.left = '0px';
lg.innerHTML =
  '<span style="position:absolute;left:537px;top:10px;width:10px;height:11px;background:#f3c96a"></span>' +
  '<span style="position:absolute;left:555px;top:10px;width:10px;height:11px;background:#f3c96a"></span>' +
  '<span style="position:absolute;left:573px;top:10px;width:10px;height:11px;background:#f3c96a"></span>' +
  '<span style="position:absolute;left:595px;top:0px">C<sub>3</sub>N</span>' +
  '<span style="position:absolute;left:668px;top:14px;width:44px;height:4px;background:#3d5cf2"></span>' +
  '<span style="position:absolute;left:716px;top:0px">Sb-C<sub>3</sub>N(Spin-up)</span>' +
  '<span style="position:absolute;left:974px;top:14px;width:14px;height:4px;background:#ff3333"></span>' +
  '<span style="position:absolute;left:991px;top:14px;width:14px;height:4px;background:#ff3333"></span>' +
  '<span style="position:absolute;left:1008px;top:14px;width:14px;height:4px;background:#ff3333"></span>' +
  '<span style="position:absolute;left:1039px;top:0px">Sb-C<sub>3</sub>N(Spin-down)</span>';
root.appendChild(lg);
</script>
</body>
</html>
